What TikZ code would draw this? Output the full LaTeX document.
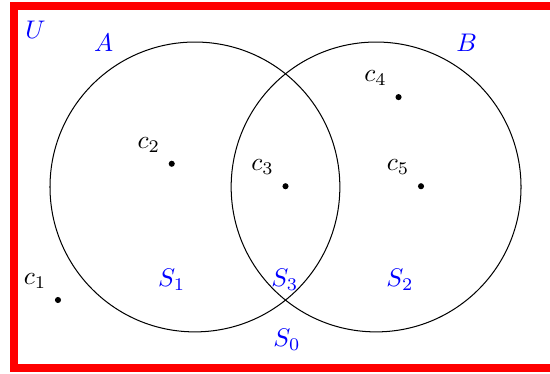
\documentclass[tikz,border=0pt]{standalone}
\usepackage{tikz}
\usetikzlibrary{positioning}
\begin{document}
\begin{tikzpicture}[>=stealth]
\tikzstyle{set} = [draw, circle, minimum size=4cm, inner sep=0pt]
\tikzstyle{setname} = [blue]
\tikzstyle{elem} = [circle, fill, inner sep=0pt, minimum size=2.4pt]
\tikzstyle{elemname} = [inner sep=2pt]

\useasboundingbox (-2.69,-2.58) rectangle (4.9,2.58);

% Universe
\draw [red, line width=3pt] (-2.5,-2.5) rectangle (5,2.5);
\node [setname] (U) at (-2.2,2.17) {$U$};

% The two sets
\node [set] (A) at (0,0) {};
\node [set] (B) at (2.5,0) {};
\node [setname] (nameA) at (-1.26,1.99) {$A$};
\node [setname] (nameB) at (3.75,1.99) {$B$};

% Regions
\node [setname] (S1) at (-0.32,-1.28) {$S_1$};
\node [setname] (S3) at (1.24,-1.28) {$S_3$};
\node [setname] (S2) at (2.83,-1.28) {$S_2$};
\node [setname] (S0) at (1.27,-2.11) {$S_0$};

% Elements
\node [elem] (c1) at (-1.89,-1.56) {};
\node [elem] (c2) at (-0.32,0.32) {};
\node [elem] (c3) at (1.25,0.01) {};
\node [elem] (c4) at (2.81,1.24) {};
\node [elem] (c5) at (3.12,0.01) {};
\node [elemname, above left=2pt of c1] (l1) {$c_1$};
\node [elemname, above left=2pt of c2] (l2) {$c_2$};
\node [elemname, above left=2pt of c3] (l3) {$c_3$};
\node [elemname, above left=2pt of c4] (l4) {$c_4$};
\node [elemname, above left=2pt of c5] (l5) {$c_5$};

\end{tikzpicture}
\end{document}
